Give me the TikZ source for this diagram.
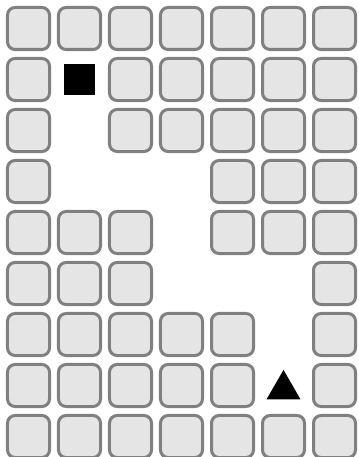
\documentclass[tikz,border=0pt]{standalone}
\usepackage{tikz}
\usetikzlibrary{shapes.geometric}

\begin{document}
\begin{tikzpicture}[
  x=0.025cm, y=-0.025cm,
  cell/.style={draw=black!50, fill=black!10, line width=0.075cm,
               rounded corners=0.19cm, minimum size=1.05cm, inner sep=0pt},
  marker/.style={fill=black, inner sep=0pt}
]
\useasboundingbox (0,0) rectangle (358,457);
% walls of the maze, row by row
\foreach \r/\cols in {0/{0,1,2,3,4,5,6}, 1/{0,2,3,4,5,6}, 2/{0,2,3,4,5,6},
                      3/{0,4,5,6}, 4/{0,1,2,4,5,6}, 5/{0,1,2,6},
                      6/{0,1,2,3,4,6}, 7/{0,1,2,3,4,6}, 8/{0,1,2,3,4,5,6}}
  \foreach \c in \cols
    \node[cell] (cell-\r-\c) at ({28.5+51*\c},{28.5+51*\r}) {};
% start and goal
\node[marker, minimum size=0.775cm] (start) at (79.5,79.5) {};
\node[marker, regular polygon, regular polygon sides=3,
      minimum size=0.98cm] (goal) at (283.5,389.5) {};
\end{tikzpicture}
\end{document}
